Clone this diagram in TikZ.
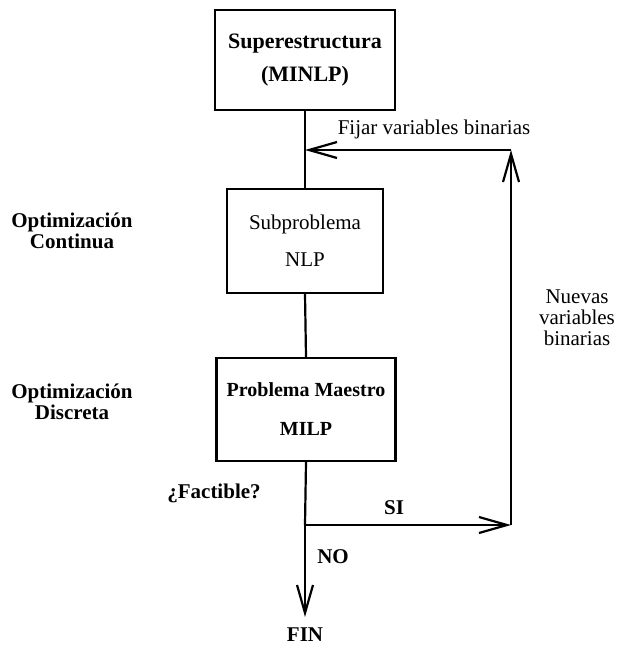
\documentclass[tikz,border=0pt]{standalone}
\usepackage{fontspec}
\setmainfont{Liberation Serif}
\usetikzlibrary{arrows.meta}
\begin{document}
\begin{tikzpicture}[x=1pt,y=-1pt,
  line width=2.2pt,
  txt/.style={font=\fontsize{21}{21}\selectfont, inner sep=0pt, align=center},
  boldtxt/.style={txt, font=\fontsize{21}{21}\selectfont\bfseries},
  boxtxt/.style={draw, line width=2.2pt, inner sep=0pt, align=center},
  flow/.style={-{Straight Barb[length=28pt,width=16pt,line width=2.2pt]}}
]
\useasboundingbox (0,0) rectangle (619,648);

% process boxes
\node[boxtxt, minimum width=180pt, minimum height=100pt,
      font=\fontsize{22}{33}\selectfont\bfseries] (sup) at (305,60)
      {Superestructura\\(MINLP)};
\node[boxtxt, minimum width=156pt, minimum height=104pt,
      font=\fontsize{21}{37}\selectfont] (nlp) at (305,241)
      {Subproblema\\NLP};
\node[boxtxt, minimum width=179pt, minimum height=103pt,
      font=\fontsize{20}{39}\selectfont\bfseries] (milp) at (306,409.5)
      {Problema Maestro\\MILP};

% junction points of the loop
\coordinate (fix)   at (305,150);
\coordinate (top)   at (511,150);
\coordinate (split) at (305,525);
\coordinate (bot)   at (511,525);
\coordinate (end)   at (305,617);
\node[boldtxt] (fin) at (305,635) {FIN};

% connectors
\draw (sup.south) -- (nlp.north);
\draw (nlp.south) -- (milp.north);
\draw (milp.south) -- (split);
\draw[flow] (split) -- (bot);
\draw[flow] (bot) -- (top);
\draw[flow] (top) -- (fix);
\draw[flow] (split) -- (end);

% labels
\node[txt] (fijar) at (434,129) {Fijar variables binarias};
\node[txt] (nuevas) at (577,318) {Nuevas\\variables\\binarias};
\node[boldtxt] (cont) at (72,231) {Optimización\\Continua};
\node[boldtxt] (disc) at (72,402) {Optimización\\Discreta};
\node[boldtxt] (fact) at (214,493) {¿Factible?};
\node[boldtxt] (si) at (394,508) {SI};
\node[boldtxt] (no) at (333,557) {NO};
\end{tikzpicture}
\end{document}
